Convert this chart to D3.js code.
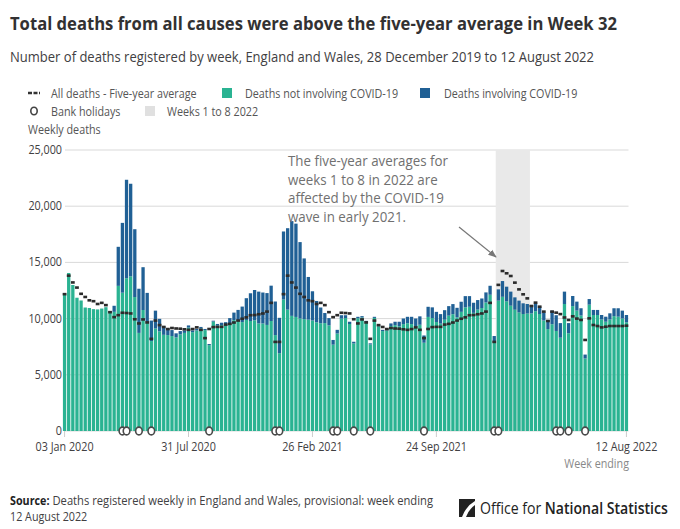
<!DOCTYPE html>
<html>
<head>
<meta charset="utf-8">
<script src="https://cdn.jsdelivr.net/npm/d3@7"></script>
<style>
body { margin: 0; background: #fff; }
svg text { font-family: "Open Sans", sans-serif; }
</style>
</head>
<body>
<div id="chart"></div>
<script>
// weekly deaths, England and Wales, week ending 03 Jan 2020 .. 12 Aug 2022 (137 weeks)
var nonCovid = [
  12254, 14058, 12990, 11856, 11612, 10986, 10944, 10841, 10816, 10895, 11014, 10542, 10602,
  12912, 12303, 13593, 13760, 11918, 8727, 10763, 9699, 8002, 9121, 8862, 8556, 8534,
  8447, 8324, 8596, 8729, 9199, 8793, 8944, 9120, 8977, 7640, 9733, 9384, 9419, 9362,
  9606, 9864, 9795, 9691, 9878, 9788, 9848, 9565, 9564, 9437, 9785, 8534, 6925,
  11694, 10797, 10243, 10148, 10006, 9954, 9905, 9831, 9670, 9587, 9600, 9395, 7680,
  8670, 10000, 10050, 9520, 7790, 10030, 10100, 9690, 7700, 10060, 9320, 8890, 8950,
  9340, 9420, 9320, 9510, 9590, 9510, 9310, 9450, 7850, 10150, 10050, 9700, 9550,
  9900, 10260, 10390, 10110, 10600, 11000, 11050, 10510, 10800, 10940, 11430, 12120, 7950,
  11600, 11940, 11540, 11150, 10790, 10550, 10410, 10450, 10460, 10660, 10410, 9830, 9070,
  9500, 8900, 8300, 11300, 8700, 11110, 10710, 10270, 6450, 11240, 10320, 10320, 9920,
  9720, 9920, 10220, 10170, 10010, 9670
];
var covid = [
  0, 0, 0, 0, 0, 0, 0, 0, 0, 0, 5, 103, 539,
  3475, 6213, 8758, 8237, 6035, 3930, 3810, 2589, 1822, 1588, 1114, 783, 606,
  532, 366, 295, 217, 193, 152, 139, 138, 101, 99, 78, 139, 215, 321,
  438, 670, 978, 1379, 1937, 2466, 2697, 2835, 2756, 2833, 3145, 2986, 3144,
  6057, 7245, 8433, 8300, 6800, 5400, 3800, 2600, 1900, 1400, 900, 650, 420,
  330, 300, 250, 200, 150, 130, 120, 110, 100, 100, 100, 110, 150,
  230, 300, 400, 500, 570, 650, 700, 750, 650, 900, 950, 900, 850,
  850, 850, 900, 850, 900, 1000, 950, 900, 850, 850, 900, 800, 500,
  1000, 1400, 1300, 1250, 1100, 1050, 950, 850, 750, 700, 650, 700, 800,
  1200, 1400, 1300, 1100, 900, 900, 800, 650, 350, 500, 450, 450, 400,
  450, 550, 700, 750, 700, 650
];
var fiveYearAvg = [
  12175, 13822, 13216, 12760, 12206, 11925, 11627, 11548, 11300, 11400, 11200, 10573, 10130,
  10305, 10520, 10497, 10458, 9941, 9570, 9925, 9658, 8200, 9823, 9420, 9256, 9070,
  9164, 9120, 9101, 9047, 8999, 9070, 9220, 9000, 8263, 9076, 9243, 9264, 9265, 9469,
  9532, 9651, 9827, 9986, 10112, 10300, 10316, 10386, 10456, 10623, 11400, 7926, 7926,
  12175, 13822, 13216, 12760, 12206, 11925, 11627, 11548, 11300, 11400, 11200, 10573, 10130,
  10305, 10520, 10497, 10458, 9941, 9570, 9925, 9658, 8200, 9823, 9420, 9256, 9070,
  9164, 9120, 9101, 9047, 8999, 9070, 9220, 9000, 8263, 9076, 9243, 9264, 9265, 9469,
  9532, 9651, 9827, 9986, 10112, 10300, 10316, 10386, 10456, 10623, 11400, 7926,
  13000, 14235, 14030, 13790, 13200, 12600, 12160, 11800, 11120, 11420, 11060, 10620, 9790,
  10620, 10530, 10400, 10100, 9880, 10200, 10000, 9880, 8100, 10020, 9430, 9340, 9220,
  9280, 9340, 9340, 9340, 9340, 9370
];
// week positions (0-based) containing a bank holiday
var bankHolidayWeeks = [14, 15, 18, 21, 35, 51, 52, 65, 66, 70, 74, 87, 104, 105, 119, 120, 122, 126];
var shadedWeeks = [105, 112];   // weeks 1 to 8 2022
var tickLabels = ["03 Jan 2020", "31 Jul 2020", "26 Feb 2021", "24 Sep 2021", "12 Aug 2022"];
var yTicks = [0, 5000, 10000, 15000, 20000, 25000];

var width = 680, height = 529;
var plot = {left: 62.5, right: 628.5, top: 150, bottom: 431};

var green = "#2ab392", blue = "#206095", textCol = "#414042";

var fmt = d3.timeFormat("%d %b %Y");
var weekEnding = nonCovid.map(function(d, i) { return d3.timeDay.offset(new Date(2020, 0, 3), 7 * i); });

var svg = d3.select("#chart").append("svg").attr("width", width).attr("height", height);

// the reference is horizontally condensed, squeeze text to match
function squish(sel, k) {
    sel.each(function() {
        var w = this.getComputedTextLength();
        d3.select(this).attr("textLength", w * (k || 0.86)).attr("lengthAdjust", "spacingAndGlyphs");
    });
}
function fit(sel, w) {
    sel.attr("textLength", w).attr("lengthAdjust", "spacingAndGlyphs");
}

var x = d3.scaleBand().domain(d3.range(nonCovid.length)).range([plot.left, plot.right]).paddingInner(0.2).paddingOuter(0.1);
var y = d3.scaleLinear().domain([0, 25000]).range([plot.bottom, plot.top]);
var bw = x.bandwidth();

// title + subtitle
fit(svg.append("text").attr("x", 10).attr("y", 30).attr("font-size", 18).attr("font-weight", "bold").attr("fill", "#323132")
    .text("Total deaths from all causes were above the five-year average in Week 32"), 607);
fit(svg.append("text").attr("x", 10).attr("y", 62).attr("font-size", 14.5).attr("fill", textCol)
    .text("Number of deaths registered by week, England and Wales, 28 December 2019 to 12 August 2022"), 584);

// legend
var lg = svg.append("g").attr("font-size", 12.5).attr("fill", "#555");
lg.append("line").attr("x1", 28).attr("x2", 40).attr("y1", 93).attr("y2", 93)
    .attr("stroke", "#333").attr("stroke-width", 2.5).attr("stroke-dasharray", "4,1.5");
lg.append("text").attr("x", 51).attr("y", 97.5).text("All deaths - Five-year average");
lg.append("rect").attr("x", 222).attr("y", 88).attr("width", 10).attr("height", 10).attr("fill", green);
lg.append("text").attr("x", 245).attr("y", 97.5).text("Deaths not involving COVID-19");
lg.append("rect").attr("x", 420).attr("y", 88).attr("width", 10).attr("height", 10).attr("fill", blue);
lg.append("text").attr("x", 444).attr("y", 97.5).text("Deaths involving COVID-19");
lg.append("ellipse").attr("cx", 34).attr("cy", 111).attr("rx", 3.2).attr("ry", 3.8)
    .attr("fill", "#fff").attr("stroke", "#444").attr("stroke-width", 1.6);
lg.append("text").attr("x", 51).attr("y", 115.5).text("Bank holidays");
lg.append("rect").attr("x", 145).attr("y", 106).attr("width", 10).attr("height", 10).attr("fill", "#e0e0e0");
lg.append("text").attr("x", 167).attr("y", 115.5).text("Weeks 1 to 8 2022");
lg.append("text").attr("x", 28).attr("y", 133.5).text("Weekly deaths");
squish(lg.selectAll("text"));

// gridlines + y labels
svg.append("g").selectAll("line").data(yTicks).enter().append("line")
    .attr("x1", 65).attr("x2", plot.right).attr("y1", d => y(d)).attr("y2", d => y(d))
    .attr("stroke", "#d9d9d9").attr("stroke-width", 1);
var yl = svg.append("g").selectAll("text").data(yTicks).enter().append("text")
    .attr("x", 62).attr("y", d => y(d) + 4).attr("text-anchor", "end")
    .attr("font-size", 12.5).attr("fill", textCol).text(d3.format(","));
squish(yl);

// shaded weeks 1 to 8 2022
svg.append("rect").attr("x", x(shadedWeeks[0]) - 1).attr("y", plot.top)
    .attr("width", x(shadedWeeks[1]) + bw + 1 - x(shadedWeeks[0]) + 1).attr("height", plot.bottom - plot.top)
    .attr("fill", "#e9e9e9");

// stacked bars
var bars = svg.append("g");
bars.selectAll(".nc").data(nonCovid).enter().append("rect")
    .attr("x", (d, i) => x(i)).attr("width", bw)
    .attr("y", d => y(d)).attr("height", d => y(0) - y(d)).attr("fill", green);
bars.selectAll(".cv").data(covid).enter().append("rect")
    .attr("x", (d, i) => x(i)).attr("width", bw)
    .attr("y", (d, i) => y(nonCovid[i] + d)).attr("height", (d, i) => y(nonCovid[i]) - y(nonCovid[i] + d))
    .attr("fill", blue);

// five-year average dashes
svg.append("g").selectAll("rect").data(fiveYearAvg).enter().append("rect")
    .attr("x", (d, i) => x(i) + bw / 2 - 1.9).attr("width", 3.8)
    .attr("y", d => y(d) - 1.3).attr("height", 2.6).attr("fill", "#2b2b2b");

// x axis
var tickIdx = d3.range(weekEnding.length).filter(i => tickLabels.indexOf(fmt(weekEnding[i])) >= 0);
var xAxis = svg.append("g").attr("transform", "translate(0," + plot.bottom + ")")
    .call(d3.axisBottom(x).tickValues(tickIdx).tickSize(6).tickPadding(5).tickFormat(i => fmt(weekEnding[i])));
xAxis.select(".domain").remove();
xAxis.selectAll("line").attr("stroke", "#cccccc");
xAxis.selectAll("text").attr("font-size", 12.5).attr("fill", textCol).attr("font-family", "Open Sans, sans-serif");
squish(xAxis.selectAll("text"));
squish(svg.append("text").attr("x", 629).attr("y", 468).attr("text-anchor", "end")
    .attr("font-size", 12.5).attr("fill", "#888").text("Week ending"));

// bank holiday markers
svg.append("g").selectAll("ellipse").data(bankHolidayWeeks).enter().append("ellipse")
    .attr("cx", d => x(d) + bw / 2).attr("cy", plot.bottom).attr("rx", 3.3).attr("ry", 3.9)
    .attr("fill", "#fff").attr("stroke", "#4a4a4a").attr("stroke-width", 1.6);

// annotation
var note = ["The five-year averages for", "weeks 1 to 8 in 2022 are", "affected by the COVID-19", "wave in early 2021."];
var nt = svg.append("g").selectAll("text").data(note).enter().append("text")
    .attr("x", 288).attr("y", (d, i) => 166 + i * 18.6)
    .attr("font-size", 14.8).attr("fill", "#707070").text(d => d);
squish(nt, 0.9);
svg.append("defs").append("marker").attr("id", "arr").attr("viewBox", "0 0 10 10")
    .attr("refX", 9).attr("refY", 5).attr("markerWidth", 7).attr("markerHeight", 7).attr("orient", "auto")
    .append("path").attr("d", "M0,1 L10,5 L0,9 Z").attr("fill", "#777");
svg.append("line").attr("x1", 459).attr("y1", 227).attr("x2", 496).attr("y2", 257)
    .attr("stroke", "#777").attr("stroke-width", 1.2).attr("marker-end", "url(#arr)");

// source
var srcBold = svg.append("text").attr("x", 10).attr("y", 505).attr("font-size", 12.5)
    .attr("font-weight", "bold").attr("fill", "#222").text("Source:");
squish(srcBold);
var sbw = +srcBold.attr("textLength");
fit(svg.append("text").attr("x", 10 + sbw + 3).attr("y", 505).attr("font-size", 12.5).attr("fill", textCol)
    .text("Deaths registered weekly in England and Wales, provisional: week ending"), 423 - sbw - 3);
squish(svg.append("text").attr("x", 10).attr("y", 521).attr("font-size", 12.5).attr("fill", textCol).text("12 August 2022"));

// ONS logo: text drawn at natural size then scaled horizontally into 480..668
var logo = svg.append("g");
logo.append("rect").attr("x", 459).attr("y", 499).attr("width", 16).attr("height", 18).attr("fill", "#222");
logo.append("path").attr("d", "M462,517 Q466,506 475,501 L475,505 Q469,509 466,517 Z").attr("fill", "#fff");
var onsG = logo.append("g");
var ons = onsG.append("text").attr("x", 0).attr("y", 0).attr("font-size", 17).attr("fill", "#222");
ons.append("tspan").text("Office for ");
ons.append("tspan").attr("font-weight", 600).text("National Statistics");
var onsW = ons.node().getComputedTextLength();
onsG.attr("transform", "translate(480,514) scale(" + (188 / onsW) + ",1)");
</script>
</body>
</html>
